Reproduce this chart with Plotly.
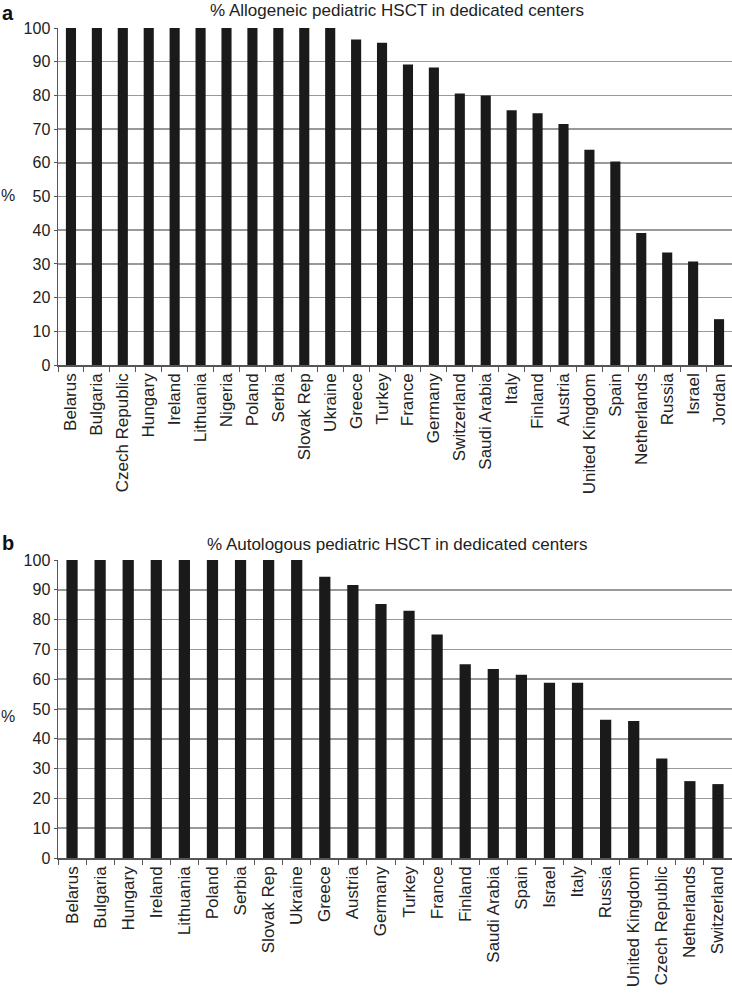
import plotly.graph_objects as go

# Panel a data
allo_countries = ["Belarus", "Bulgaria", "Czech Republic", "Hungary", "Ireland", "Lithuania",
                  "Nigeria", "Poland", "Serbia", "Slovak Rep", "Ukraine", "Greece", "Turkey",
                  "France", "Germany", "Switzerland", "Saudi Arabia", "Italy", "Finland",
                  "Austria", "United Kingdom", "Spain", "Netherlands", "Russia", "Israel", "Jordan"]
allo_values = [100, 100, 100, 100, 100, 100, 100, 100, 100, 100, 100, 96.6, 95.6,
               89.2, 88.3, 80.6, 80.0, 75.6, 74.7, 71.5, 63.9, 60.4, 39.2, 33.4, 30.7, 13.6]

# Panel b data
auto_countries = ["Belarus", "Bulgaria", "Hungary", "Ireland", "Lithuania", "Poland", "Serbia",
                  "Slovak Rep", "Ukraine", "Greece", "Austria", "Germany", "Turkey", "France",
                  "Finland", "Saudi Arabia", "Spain", "Israel", "Italy", "Russia",
                  "United Kingdom", "Czech Republic", "Netherlands", "Switzerland"]
auto_values = [100, 100, 100, 100, 100, 100, 100, 100, 100, 94.4, 91.6, 85.2, 83.0, 75.0,
               65.0, 63.4, 61.5, 58.8, 58.8, 46.4, 46.0, 33.4, 25.8, 24.8]

y_ticks = [0, 10, 20, 30, 40, 50, 60, 70, 80, 90, 100]

W, H = 732, 998
FONT = "Liberation Sans, Arial, sans-serif"
TXT = "#222222"
BAR = "#1a1a1a"
GRID = "#999999"

fig = go.Figure()
fig.add_trace(go.Bar(x=allo_countries, y=allo_values, marker=dict(color=BAR, line=dict(width=0)),
                     width=0.39, xaxis="x", yaxis="y", showlegend=False))
fig.add_trace(go.Bar(x=auto_countries, y=auto_values, marker=dict(color=BAR, line=dict(width=0)),
                     width=0.4, xaxis="x2", yaxis="y2", showlegend=False))

def ya(domain, anchor):
    return dict(domain=domain, anchor=anchor, range=[0, 100], tickvals=y_ticks,
                showgrid=True, gridcolor=GRID, gridwidth=1.5, showline=True,
                linecolor="#555555", linewidth=1.5, ticks="outside", ticklen=3,
                tickcolor="#555555", tickfont=dict(family=FONT, size=16, color=TXT),
                zeroline=False, fixedrange=True)

def xa(anchor):
    return dict(domain=[58 / W, 1], anchor=anchor, type="category", tickangle=-90,
                showline=True, linecolor="#555555", linewidth=1.5, ticks="outside",
                tickson="boundaries", ticklen=5, tickcolor="#555555",
                tickfont=dict(family=FONT, size=17, color=TXT), showgrid=False,
                fixedrange=True)

fig.update_layout(
    width=W, height=H, margin=dict(l=0, r=0, t=0, b=0, autoexpand=False),
    paper_bgcolor="white", plot_bgcolor="white",
    xaxis=xa("y"), yaxis=ya([1 - 365 / H, 1 - 28 / H], "x"),
    xaxis2=xa("y2"), yaxis2=ya([1 - 858 / H, 1 - 560 / H], "x2"),
    annotations=[
        dict(text="<b>a</b>", x=0, y=1 - 0 / H, xref="paper", yref="paper", xanchor="left",
             yanchor="top", showarrow=False, font=dict(family=FONT, size=20, color="#111")),
        dict(text="% Allogeneic pediatric HSCT in dedicated centers", x=397 / W, y=1 - 11 / H,
             xref="paper", yref="paper", xanchor="center", yanchor="middle", showarrow=False,
             font=dict(family=FONT, size=17, color=TXT)),
        dict(text="%", x=8 / W, y=1 - 196 / H, xref="paper", yref="paper", xanchor="center",
             yanchor="middle", showarrow=False, font=dict(family=FONT, size=16, color=TXT)),
        dict(text="<b>b</b>", x=0, y=1 - 530 / H, xref="paper", yref="paper", xanchor="left",
             yanchor="top", showarrow=False, font=dict(family=FONT, size=20, color="#111")),
        dict(text="% Autologous pediatric HSCT in dedicated centers", x=397 / W, y=1 - 544 / H,
             xref="paper", yref="paper", xanchor="center", yanchor="middle", showarrow=False,
             font=dict(family=FONT, size=17, color=TXT)),
        dict(text="%", x=8 / W, y=1 - 716 / H, xref="paper", yref="paper", xanchor="center",
             yanchor="middle", showarrow=False, font=dict(family=FONT, size=16, color=TXT)),
    ],
)

fig.write_html("out.html", config={"displayModeBar": False, "staticPlot": True},
               post_script="document.body.style.margin='0';document.body.style.overflow='hidden';")
